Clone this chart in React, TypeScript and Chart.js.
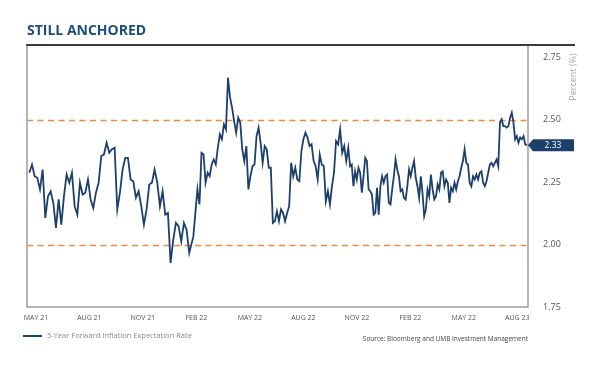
import React, { useEffect, useRef } from "react";
import { Chart, registerables } from "chart.js";

Chart.register(...registerables);

// ---------- text ----------
const chartTitle = "STILL ANCHORED";
const seriesName = "5-Year Forward Inflation Expectation Rate";
const sourceNote = "Source: Bloomberg and UMB Investment Management";
const yAxisTitle = "Percent (%)";
const latestLabel = "2.33";

// ---------- axes (x in months since 1 May 2021) ----------
const xTickLabels = ["MAY 21", "AUG 21", "NOV 21", "FEB 22", "MAY 22", "AUG 22", "NOV 22", "FEB 22", "MAY 22", "AUG 23"];
const xTickMonths = [0.5, 3.5, 6.5, 9.5, 12.5, 15.5, 18.5, 21.5, 24.5, 27.5];
const xRange = [0, 28.1];
const yTicks = [1.75, 2.0, 2.25, 2.5, 2.75];
const yRange = [1.75, 2.8];
const bandLines = [2.0, 2.5];

// ---------- series (trading-day readings, split by period) ----------
const spanMay21ToJan22 = [0.13, 9.1];
const rateMay21ToJan22 = [
  2.288, 2.321, 2.274, 2.268, 2.221, 2.301, 2.107, 2.194, 2.214, 2.167,
  2.067, 2.181, 2.080, 2.194, 2.281, 2.248, 2.288, 2.154, 2.120, 2.248,
  2.201, 2.208, 2.261, 2.181, 2.147, 2.208, 2.248, 2.355, 2.361, 2.408,
  2.368, 2.382, 2.388, 2.141, 2.208, 2.301, 2.348, 2.348, 2.261, 2.254,
  2.188, 2.214, 2.154, 2.080, 2.141, 2.241, 2.248, 2.301, 2.248, 2.154,
  2.214, 2.120, 2.127, 1.927, 2.020, 2.087, 2.074, 2.013, 2.087, 2.060,
  1.967,
];

const spanFeb22ToOct22 = [9.33, 18.02];
const rateFeb22ToOct22 = [
  2.033, 2.127, 2.221, 2.161, 2.368, 2.361, 2.248, 2.288, 2.274, 2.321,
  2.341, 2.321, 2.388, 2.442, 2.422, 2.482, 2.462, 2.669, 2.589, 2.549,
  2.495, 2.449, 2.509, 2.489, 2.382, 2.335, 2.395, 2.221, 2.274, 2.314,
  2.321, 2.435, 2.469, 2.408, 2.328, 2.395, 2.382, 2.308, 2.308, 2.087,
  2.094, 2.134, 2.094, 2.141, 2.127, 2.094, 2.127, 2.154, 2.328, 2.274,
  2.308, 2.261, 2.254, 2.375, 2.422, 2.449, 2.429, 2.395, 2.402, 2.335,
  2.314, 2.261, 2.361, 2.321, 2.314, 2.174, 2.214, 2.161, 2.234, 2.288,
  2.415, 2.402, 2.462, 2.368, 2.395, 2.335, 2.388,
];

const spanNov22ToAug23 = [18.12, 28.04];
const rateNov22ToAug23 = [
  2.314, 2.321, 2.234, 2.294, 2.261, 2.308, 2.288, 2.208, 2.274, 2.348,
  2.335, 2.221, 2.214, 2.201, 2.120, 2.127, 2.228, 2.120, 2.234, 2.274,
  2.248, 2.274, 2.281, 2.167, 2.161, 2.221, 2.274, 2.341, 2.301, 2.274,
  2.214, 2.221, 2.188, 2.181, 2.234, 2.301, 2.274, 2.308, 2.335, 2.268,
  2.234, 2.188, 2.274, 2.208, 2.114, 2.141, 2.221, 2.194, 2.281, 2.221,
  2.181, 2.194, 2.241, 2.221, 2.288, 2.294, 2.234, 2.261, 2.248, 2.167,
  2.228, 2.214, 2.248, 2.221, 2.254, 2.274, 2.308, 2.335, 2.382, 2.328,
  2.321, 2.248, 2.234, 2.274, 2.261, 2.281, 2.261, 2.288, 2.294, 2.248,
  2.234, 2.254, 2.288, 2.321, 2.328, 2.314, 2.328, 2.341, 2.314, 2.489,
  2.502, 2.475, 2.475, 2.469, 2.475, 2.509, 2.529, 2.489, 2.422, 2.435,
  2.408, 2.429, 2.422, 2.435, 2.402, 2.398,
];

// ---------- styles ----------
const NAVY = "#1d3f6c";
const TITLE_BLUE = "#1e4d7b";
const ORANGE = "#ee8a3a";
const FONT = "'Open Sans', 'Noto Sans', sans-serif";

function spread(span: number[], values: number[]) {
  const [a, b] = span;
  const n = values.length;
  return values.map((v, i) => ({ x: a + ((b - a) * i) / (n - 1), y: v }));
}

const decorPlugin = {
  id: "decor",
  beforeDatasetsDraw(chart: any) {
    const { ctx, chartArea, scales } = chart;
    const y = scales.y;
    ctx.save();
    ctx.strokeStyle = ORANGE;
    ctx.lineWidth = 1.5;
    ctx.setLineDash([6, 4.5]);
    bandLines.forEach((v) => {
      const py = Math.round(y.getPixelForValue(v)) + 0.5;
      ctx.beginPath();
      ctx.moveTo(chartArea.left, py);
      ctx.lineTo(chartArea.right, py);
      ctx.stroke();
    });
    ctx.restore();
  },
  afterDatasetsDraw(chart: any) {
    const { ctx, chartArea } = chart;
    const { left, right, top, bottom } = chartArea;
    ctx.save();
    ctx.strokeStyle = "#9d9d9d";
    ctx.lineWidth = 1.5;
    ctx.beginPath();
    ctx.moveTo(left, top);
    ctx.lineTo(left, bottom);
    ctx.lineTo(right, bottom);
    ctx.lineTo(right, top);
    ctx.stroke();
    ctx.strokeStyle = "#3b3b3b";
    ctx.lineWidth = 2;
    ctx.beginPath();
    ctx.moveTo(left - 0.75, top);
    ctx.lineTo(575, top);
    ctx.stroke();

    const meta = chart.getDatasetMeta(0);
    const last = meta.data[meta.data.length - 1];
    const by = last.y;
    ctx.fillStyle = NAVY;
    ctx.beginPath();
    ctx.moveTo(right, by);
    ctx.lineTo(right + 5, by - 6);
    ctx.lineTo(574, by - 6);
    ctx.lineTo(574, by + 6);
    ctx.lineTo(right + 5, by + 6);
    ctx.closePath();
    ctx.fill();
    ctx.fillStyle = "#ffffff";
    ctx.font = `8.5px ${FONT}`;
    ctx.textAlign = "center";
    ctx.textBaseline = "middle";
    ctx.fillText(latestLabel, 553, by + 0.5);

    ctx.fillStyle = "#a8a8a8";
    ctx.font = `9px ${FONT}`;
    ctx.translate(573, 77);
    ctx.rotate(-Math.PI / 2);
    ctx.fillText(yAxisTitle, 0, 0);
    ctx.restore();
  },
};

export default function App() {
  const canvasRef = useRef<HTMLCanvasElement | null>(null);

  useEffect(() => {
    if (!canvasRef.current) return;
    const points = [
      ...spread(spanMay21ToJan22, rateMay21ToJan22),
      ...spread(spanFeb22ToOct22, rateFeb22ToOct22),
      ...spread(spanNov22ToAug23, rateNov22ToAug23),
    ];
    const chart = new Chart(canvasRef.current, {
      type: "line",
      data: {
        datasets: [
          {
            label: seriesName,
            data: points,
            borderColor: NAVY,
            borderWidth: 1.8,
            pointRadius: 0,
            tension: 0,
            fill: false,
          },
        ],
      },
      options: {
        animation: false,
        responsive: false,
        maintainAspectRatio: false,
        events: [],
        layout: { padding: { left: 27, top: 45, right: 0, bottom: 40 } },
        plugins: {
          legend: { display: false },
          title: { display: false },
          tooltip: { enabled: false },
        },
        scales: {
          x: {
            type: "linear",
            min: xRange[0],
            max: xRange[1],
            grid: { display: false, drawTicks: false },
            border: { display: false },
            afterBuildTicks: (scale: any) => {
              scale.ticks = xTickMonths.map((v) => ({ value: v }));
            },
            afterFit: (scale: any) => {
              scale.height = 20;
            },
            ticks: {
              autoSkip: false,
              maxRotation: 0,
              padding: 7,
              color: "#555555",
              font: { family: FONT, size: 7 },
              callback: (_v: any, i: number) => xTickLabels[i],
            },
          },
          y: {
            type: "linear",
            position: "right",
            min: yRange[0],
            max: yRange[1],
            grid: { display: false, drawTicks: false },
            border: { display: false },
            afterBuildTicks: (scale: any) => {
              scale.ticks = yTicks.map((v) => ({ value: v }));
            },
            afterFit: (scale: any) => {
              scale.width = 72;
            },
            ticks: {
              padding: 15,
              color: "#555555",
              font: { family: FONT, size: 9 },
              callback: (v: any) => Number(v).toFixed(2),
            },
          },
        },
      },
      plugins: [decorPlugin],
    } as any);
    return () => chart.destroy();
  }, []);

  return (
    <div style={{ position: "absolute", left: 0, top: 0, width: 600, height: 367, background: "#fff", fontFamily: FONT }}>
      <canvas ref={canvasRef} width={600} height={367} style={{ position: "absolute", left: 0, top: 0 }} />
      <div
        style={{
          position: "absolute",
          left: 27,
          top: 22.5,
          fontSize: 14,
          lineHeight: "14px",
          fontWeight: 700,
          color: TITLE_BLUE,
          whiteSpace: "nowrap",
        }}
      >
        {chartTitle}
      </div>
      <div style={{ position: "absolute", left: 23, top: 335, width: 19, height: 2, background: NAVY }} />
      <div
        style={{
          position: "absolute",
          left: 47,
          top: 332,
          fontSize: 7.5,
          lineHeight: "7.5px",
          color: "#8a8a8a",
          whiteSpace: "nowrap",
        }}
      >
        {seriesName}
      </div>
      <div
        style={{
          position: "absolute",
          right: 72,
          top: 336,
          fontSize: 6.5,
          lineHeight: "6.5px",
          color: "#444444",
          whiteSpace: "nowrap",
        }}
      >
        {sourceNote}
      </div>
    </div>
  );
}
